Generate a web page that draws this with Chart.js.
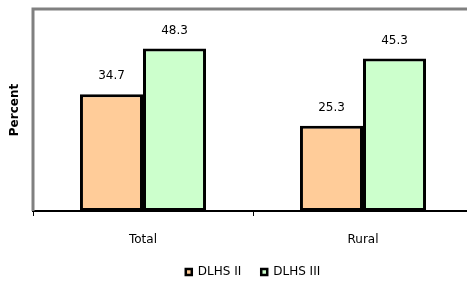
<!DOCTYPE html>
<html>
<head>
<meta charset="utf-8">
<script src="https://cdn.jsdelivr.net/npm/chart.js@4"></script>
<style>
  html, body { margin: 0; padding: 0; background: #fff; overflow: hidden; }
  #wrap { width: 467px; height: 284px; overflow: hidden; }
</style>
</head>
<body>
<div id="wrap"><canvas id="grafico" width="473" height="284"></canvas></div>
<script>
const categories = ['Total', 'Rural'];
const dlhs2 = [34.7, 25.3];
const dlhs3 = [48.3, 45.3];

const FONT = '"DejaVu Sans", Verdana, sans-serif';

// draws the gray plot frame and the value labels over the bars
const extras = {
    id: 'extras',
    beforeDatasetsDraw(chart) {
        const a = chart.chartArea, c = chart.ctx;
        c.save();
        c.strokeStyle = '#808080';
        c.lineWidth = 3;
        c.beginPath();
        c.moveTo(a.left, a.bottom);
        c.lineTo(a.left, a.top);
        c.lineTo(a.right + 2, a.top);
        c.stroke();
        c.restore();
    },
    afterDatasetsDraw(chart) {
        const c = chart.ctx;
        c.save();
        c.font = '12px ' + FONT;
        c.fillStyle = '#000';
        c.textAlign = 'center';
        c.textBaseline = 'middle';
        chart.data.datasets.forEach((ds, i) => {
            chart.getDatasetMeta(i).data.forEach((bar, j) => {
                c.fillText(ds.data[j].toFixed(1), bar.x, bar.y - 18);
            });
        });
        c.restore();
    }
};

const grafico = new Chart(document.getElementById('grafico'), {
    type: 'bar',
    data: {
        labels: categories,
        datasets: [{
            label: 'DLHS II',
            data: dlhs2,
            backgroundColor: '#FFCC99',
            borderColor: '#000',
            borderWidth: 3,
            borderSkipped: false
        }, {
            label: 'DLHS III',
            data: dlhs3,
            backgroundColor: '#CCFFCC',
            borderColor: '#000',
            borderWidth: 3,
            borderSkipped: false
        }]
    },
    options: {
        responsive: false,
        animation: false,
        layout: { padding: { top: 9, right: 0, left: 0, bottom: -4 } },
        datasets: { bar: { categoryPercentage: 0.573, barPercentage: 1 } },
        plugins: {
            legend: {
                position: 'bottom',
                fullSize: false,
                labels: {
                    boxWidth: 6,
                    boxHeight: 6,
                    padding: 20,
                    color: '#000',
                    font: { family: FONT, size: 12 },
                    generateLabels: chart => Chart.defaults.plugins.legend.labels.generateLabels(chart)
                        .map(l => Object.assign(l, { lineWidth: 2.5 }))
                }
            },
            tooltip: { enabled: false }
        },
        scales: {
            x: {
                grid: { drawOnChartArea: false, color: '#000', tickLength: 5, tickWidth: 1 },
                border: { color: '#000', width: 2 },
                ticks: {
                    padding: 17,
                    color: '#000',
                    font: { family: FONT, size: 12 }
                },
                afterFit: s => { s.height = 35; }
            },
            y: {
                min: 0,
                max: 60,
                grid: { display: false },
                border: { display: false },
                ticks: { display: false },
                title: {
                    display: true,
                    text: 'Percent',
                    color: '#000',
                    padding: { top: 8, bottom: 0 },
                    font: { family: FONT, size: 12, weight: 'bold' }
                },
                afterFit: s => { s.width = 33; }
            }
        }
    },
    plugins: [extras]
});
</script>
</body>
</html>
